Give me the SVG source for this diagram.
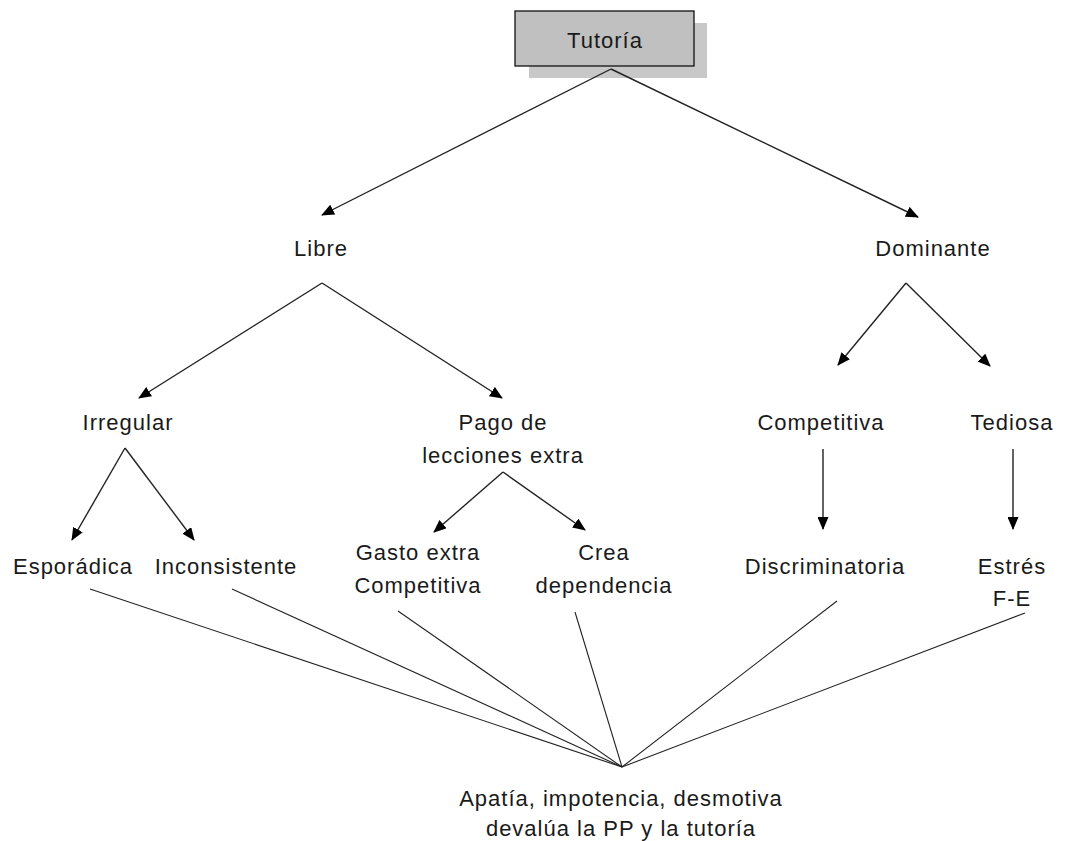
<svg xmlns="http://www.w3.org/2000/svg" width="1065" height="841" viewBox="0 0 1065 841">
<style>
text{font-family:"Liberation Sans",Arial,sans-serif;font-size:22px;letter-spacing:1px;fill:#1a1a1a;text-anchor:middle}
.a{stroke:#222;stroke-width:1.4;fill:none;marker-end:url(#ah)}
.l{stroke:#222;stroke-width:1.1;fill:none}
</style>
<defs>
<marker id="ah" viewBox="0 0 13 11" refX="12" refY="5.5" markerWidth="13" markerHeight="11" markerUnits="userSpaceOnUse" orient="auto">
<path d="M0,0 L13,5.5 L0,11 Z" fill="#000"/>
</marker>
</defs>
<rect width="1065" height="841" fill="#fff"/>
<g id="n-tutoria">
<rect x="529" y="23" width="178" height="55" fill="#c8c8c8"/>
<rect x="515" y="11" width="179" height="55" fill="#c0c0c0" stroke="#111" stroke-width="1.3"/>
<text x="605" y="48">Tutoría</text>
</g>
<g id="n-libre"><text x="321" y="256">Libre</text></g>
<g id="n-dominante"><text x="933" y="256">Dominante</text></g>
<g id="n-irregular"><text x="128" y="430">Irregular</text></g>
<g id="n-pago"><text x="503" y="430">Pago de</text><text x="503" y="463">lecciones extra</text></g>
<g id="n-competitiva"><text x="821" y="430">Competitiva</text></g>
<g id="n-tediosa"><text x="1012" y="430">Tediosa</text></g>
<g id="n-esporadica"><text x="73" y="574">Esporádica</text></g>
<g id="n-inconsistente"><text x="226" y="574">Inconsistente</text></g>
<g id="n-gasto"><text x="418" y="560">Gasto extra</text><text x="418" y="593">Competitiva</text></g>
<g id="n-crea"><text x="604" y="560">Crea</text><text x="604" y="593">dependencia</text></g>
<g id="n-discriminatoria"><text x="825" y="574">Discriminatoria</text></g>
<g id="n-estres"><text x="1012" y="574">Estrés</text><text x="1012" y="606">F-E</text></g>
<g id="n-apatia"><text x="621" y="806">Apatía, impotencia, desmotiva</text><text x="621" y="836">devalúa la PP y la tutoría</text></g>
<g id="connectors">
<line class="a" x1="611" y1="69" x2="322" y2="215"/>
<line class="a" x1="611" y1="69" x2="918" y2="217"/>
<line class="a" x1="322" y1="283" x2="139" y2="398"/>
<line class="a" x1="322" y1="283" x2="502" y2="398"/>
<line class="a" x1="906" y1="283" x2="838" y2="365"/>
<line class="a" x1="906" y1="283" x2="990" y2="366"/>
<line class="a" x1="125" y1="448" x2="72" y2="540"/>
<line class="a" x1="125" y1="448" x2="194" y2="540"/>
<line class="a" x1="503" y1="472" x2="434" y2="532"/>
<line class="a" x1="503" y1="472" x2="585" y2="530"/>
<line class="a" x1="823" y1="449" x2="823" y2="529"/>
<line class="a" x1="1013" y1="449" x2="1013" y2="529"/>
<line class="l" x1="90" y1="589" x2="622" y2="767"/>
<line class="l" x1="232" y1="589" x2="622" y2="767"/>
<line class="l" x1="398" y1="611" x2="622" y2="767"/>
<line class="l" x1="575" y1="612" x2="622" y2="767"/>
<line class="l" x1="837" y1="601" x2="622" y2="767"/>
<line class="l" x1="1025" y1="613" x2="622" y2="767"/>
</g>
</svg>
